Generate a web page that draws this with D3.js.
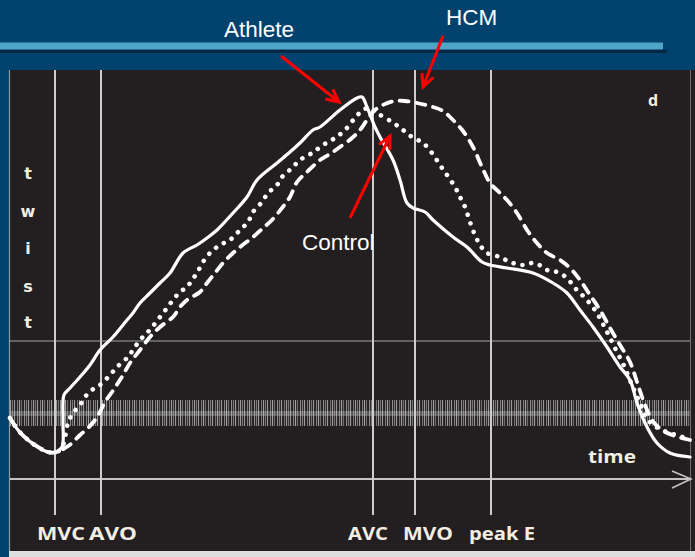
<!DOCTYPE html>
<html>
<head>
<meta charset="utf-8">
<script src="https://cdn.jsdelivr.net/npm/d3@7"></script>
<style>
  html, body { margin: 0; padding: 0; background: #01426e; }
  svg { display: block; }
</style>
</head>
<body>
<svg id="chart" width="695" height="557"></svg>
<script>
// Left-ventricular twist over one cardiac cycle: [time (ms), twist]
const athlete = [
  [0,-0.5],[8,-1.7],[18,-2.7],[28,-3.4],[38,-3.9],[46,-3.9],[52,-3.4],[53,-0.7],[54,1.8],
  [60,2.5],[70,3.6],[80,4.8],[90,6.3],[103,7.6],[117,9.3],[123,10.0],[130,11.0],[140,12.0],
  [150,13.0],[160,14.0],[173,16.0],[187,16.8],[197,17.5],[207,18.3],[223,20.0],[237,21.6],
  [247,23.3],[267,25.0],[280,26.1],[290,27.0],[303,28.3],[310,28.6],[330,30.3],[347,31.5],
  [352,31.6],[357,30.6],[365,28.6],[370,27.6],[383,25.3],[390,23.3],[397,21.0],[403,20.5],
  [415,20.1],[423,19.3],[443,17.6],[457,16.6],[472,15.1],[480,14.8],[497,14.5],[523,14.0],
  [543,13.0],[557,12.0],[570,10.3],[583,8.6],[597,6.6],[610,4.6],[620,3.3],[627,1.0],
  [637,-1.4],[647,-3.0],[660,-4.0],[680,-4.4]
];
const control = [
  [0,-0.5],[8,-1.7],[18,-2.7],[28,-3.4],[38,-3.9],[47,-3.9],[53,-3.2],[58,-1.0],[63,0.0],
  [70,0.8],[75,1.6],[82,2.3],[90,2.8],[100,3.8],[107,4.6],[117,5.5],[123,6.3],[130,7.3],
  [137,8.0],[143,8.7],[150,9.6],[157,10.5],[163,11.3],[170,12.1],[177,12.6],[182,13.3],
  [187,14.0],[193,15.1],[200,16.0],[210,16.8],[220,17.3],[230,18.3],[238,19.1],[243,20.1],
  [252,21.1],[258,22.0],[267,22.8],[272,23.6],[282,24.5],[290,25.3],[302,26.0],[313,26.8],
  [325,27.5],[335,28.3],[345,29.5],[353,30.3],[360,30.5],[367,30.0],[382,29.1],[393,28.3],
  [402,27.6],[413,27.0],[422,26.0],[430,24.8],[437,23.8],[445,22.6],[450,21.6],[455,20.6],
  [460,19.1],[465,17.8],[470,16.8],[477,16.0],[490,15.6],[500,15.1],[512,14.8],[525,15.0],
  [537,14.3],[547,14.1],[557,13.5],[565,12.5],[575,11.5],[585,10.3],[595,8.5],[605,6.5],
  [615,4.5],[622,2.8],[630,1.0],[638,-0.7],[648,-1.5],[660,-2.0],[673,-2.4],[680,-2.5]
];
const hcm = [
  [0,-0.5],[8,-1.7],[18,-2.7],[28,-3.4],[38,-3.9],[48,-3.9],[55,-3.5],[62,-3.0],[70,-2.2],
  [78,-1.5],[85,-0.7],[90,0.1],[95,1.1],[102,2.1],[108,3.0],[113,3.8],[120,5.0],[130,6.3],
  [140,7.6],[150,8.6],[163,9.6],[170,10.6],[177,11.3],[190,12.1],[197,13.0],[205,14.0],
  [213,15.0],[223,16.0],[230,16.6],[243,17.6],[253,18.5],[262,19.3],[272,20.5],[280,21.6],
  [287,23.1],[297,24.1],[310,25.3],[320,25.9],[330,26.6],[342,27.5],[350,28.3],[357,29.3],
  [365,30.3],[375,30.9],[385,31.2],[395,31.2],[407,31.0],[423,30.6],[433,30.2],[443,29.3],
  [453,28.2],[463,26.6],[472,24.6],[480,23.0],[490,22.0],[497,21.3],[507,20.0],[517,18.3],
  [527,17.0],[537,16.0],[550,15.3],[560,14.5],[570,13.3],[580,11.8],[590,10.3],[600,8.5],
  [610,6.8],[620,5.1],[628,2.8],[635,0.8],[642,-0.7],[652,-1.7],[665,-2.3],[680,-2.7]
];

// Cardiac events (ms) and their labels
const eventNames = ["MVC", "AVO", "AVC", "MVO", "peak E"];
const eventTimes = [45, 91, 363, 405, 481];
const axisLetters = ["t", "w", "i", "s", "t"];
const seriesNames = ["Athlete", "HCM", "Control"];

// ---- layout ----
const W = 695, H = 557;
const panel = { left: 9, top: 70, right: 695, bottom: 551 };
const x = d3.scaleLinear().domain([0, 680]).range([10, 690]);
const y = d3.scaleLinear().domain([-4, 32]).range([453, 93]);
const axisY = 479, gridY = 341, eventLineEnd = 515;
const band = { top: 400, bottom: 426 };
const labelText = "#f3eee4";
const eventLabelLayout = [
  { x: 37, w: 48 }, { x: 89, w: 48 }, { x: 348, w: 40 }, { x: 403, w: 50 }, { x: 469, w: 66 }
];

const svg = d3.select("#chart");
const defs = svg.append("defs");

// slide background and header bar
svg.append("rect").attr("width", W).attr("height", H).attr("fill", "#01426e");
svg.append("rect").attr("x", 0).attr("y", 49.5).attr("width", 667).attr("height", 3.5).attr("fill", "#012946");
svg.append("rect").attr("x", 0).attr("y", 42.5).attr("width", 663).attr("height", 7).attr("fill", "#4ea5c5");

// dark plot panel
svg.append("rect").attr("x", panel.left).attr("y", panel.bottom).attr("width", W - panel.left).attr("height", H - panel.bottom).attr("fill", "#dedede");
svg.append("rect").attr("x", panel.left).attr("y", panel.top)
  .attr("width", panel.right - panel.left).attr("height", panel.bottom - panel.top).attr("fill", "#231f20");
svg.append("line").attr("x1", panel.left + 0.5).attr("x2", panel.left + 0.5)
  .attr("y1", panel.top).attr("y2", panel.bottom).attr("stroke", "#9a9a9a").attr("stroke-width", 1.2);
svg.append("line").attr("x1", 690.5).attr("x2", 690.5)
  .attr("y1", panel.top).attr("y2", panel.bottom).attr("stroke", "#6f6f6f").attr("stroke-width", 1);

// striped band of the trace baseline
const stripeOffsets = [0, 2, 4, 7, 9, 11, 14, 16, 18, 21];
const stripeAlpha = [0.9, 0.6, 0.85, 0.7, 0.95, 0.55, 0.8, 0.65, 0.9, 0.6];
const pat = defs.append("pattern").attr("id", "stripes")
  .attr("patternUnits", "userSpaceOnUse").attr("x", 10).attr("y", band.top)
  .attr("width", 23).attr("height", band.bottom - band.top);
stripeOffsets.forEach((o, i) => {
  pat.append("rect").attr("x", o).attr("y", 0).attr("width", 1.1)
    .attr("height", band.bottom - band.top).attr("fill", "#a8a8a8").attr("opacity", stripeAlpha[i]);
});
svg.append("rect").attr("x", 10).attr("y", band.top).attr("width", 680)
  .attr("height", band.bottom - band.top).attr("fill", "url(#stripes)");
svg.append("rect").attr("x", 10).attr("y", 411).attr("width", 680).attr("height", 5)
  .attr("fill", "#d8d8d8").attr("opacity", 0.3);

// reference lines
svg.append("line").attr("x1", 10).attr("x2", 690).attr("y1", gridY).attr("y2", gridY)
  .attr("stroke", "#7a7a7a").attr("stroke-width", 1.5);
svg.append("line").attr("x1", 10).attr("x2", 690).attr("y1", axisY).attr("y2", axisY)
  .attr("stroke", "#c4c4c4").attr("stroke-width", 2);
svg.append("path").attr("d", `M672,471 L691,${axisY} L672,488`)
  .attr("fill", "none").attr("stroke", "#c4c4c4").attr("stroke-width", 1.6);

// event markers
svg.append("g").selectAll("line").data(eventTimes).join("line")
  .attr("x1", d => x(d)).attr("x2", d => x(d))
  .attr("y1", panel.top).attr("y2", eventLineEnd)
  .attr("stroke", "#cdcdcd").attr("stroke-width", 2);

svg.append("g").selectAll("text").data(eventNames).join("text")
  .attr("x", (d, i) => eventLabelLayout[i].x).attr("y", 540)
  .attr("textLength", (d, i) => eventLabelLayout[i].w).attr("lengthAdjust", "spacingAndGlyphs")
  .attr("font-family", "'Open Sans', sans-serif").attr("font-weight", 700).attr("font-size", 17)
  .attr("fill", labelText).text(d => d);

// axis titles
svg.append("g").selectAll("text").data(axisLetters).join("text")
  .attr("x", 28).attr("y", (d, i) => [179, 217, 254, 292, 328][i])
  .attr("text-anchor", "middle")
  .attr("font-family", "'DejaVu Sans', sans-serif").attr("font-weight", 700).attr("font-size", 16)
  .attr("fill", labelText).text(d => d);
svg.append("text").attr("x", 588).attr("y", 463).attr("textLength", 48).attr("lengthAdjust", "spacingAndGlyphs")
  .attr("font-family", "'Open Sans', sans-serif").attr("font-weight", 700).attr("font-size", 17)
  .attr("fill", labelText).text("time");
svg.append("text").attr("x", 648).attr("y", 106)
  .attr("font-family", "'Open Sans', sans-serif").attr("font-weight", 700).attr("font-size", 16)
  .attr("fill", labelText).text("d");

// twist traces
const line = d3.line().x(d => x(d[0])).y(d => y(d[1])).curve(d3.curveCatmullRom.alpha(0.5));
const soft = defs.append("filter").attr("id", "soft");
soft.append("feGaussianBlur").attr("stdDeviation", 0.45);

const traces = [
  { data: hcm, width: 3.8, dash: "9 8", cap: "round" },
  { data: control, width: 4.6, dash: "0.01 9", cap: "round" },
  { data: athlete, width: 3.2, dash: null, cap: "round" }
];
svg.append("g").attr("filter", "url(#soft)").selectAll("path").data(traces).join("path")
  .attr("d", d => line(d.data))
  .attr("fill", "none").attr("stroke", "#ffffff")
  .attr("stroke-width", d => d.width)
  .attr("stroke-dasharray", d => d.dash)
  .attr("stroke-linecap", d => d.cap)
  .attr("stroke-linejoin", "round");

// annotations
const annotations = [
  { name: seriesNames[0], tx: 224, ty: 37, from: [281, 56], to: [339, 102] },
  { name: seriesNames[1], tx: 446, ty: 25, from: [443, 36], to: [423, 87] },
  { name: seriesNames[2], tx: 302, ty: 250, from: [350, 218], to: [390, 136] }
];
const ann = svg.append("g");
annotations.forEach(a => {
  ann.append("text").attr("x", a.tx).attr("y", a.ty)
    .attr("font-family", "'Liberation Sans', Arial, sans-serif").attr("font-size", 22.5)
    .attr("fill", "#ffffff").text(a.name);
  const ang = Math.atan2(a.to[1] - a.from[1], a.to[0] - a.from[0]);
  const L = 14, spread = 0.45;
  const w1 = [a.to[0] - L * Math.cos(ang - spread), a.to[1] - L * Math.sin(ang - spread)];
  const w2 = [a.to[0] - L * Math.cos(ang + spread), a.to[1] - L * Math.sin(ang + spread)];
  ann.append("line").attr("x1", a.from[0]).attr("y1", a.from[1]).attr("x2", a.to[0]).attr("y2", a.to[1])
    .attr("stroke", "#ff0000").attr("stroke-width", 3);
  ann.append("path").attr("d", `M${w1[0]},${w1[1]} L${a.to[0]},${a.to[1]} L${w2[0]},${w2[1]}`)
    .attr("fill", "none").attr("stroke", "#ff0000").attr("stroke-width", 3)
    .attr("stroke-linejoin", "miter");
});
</script>
</body>
</html>
